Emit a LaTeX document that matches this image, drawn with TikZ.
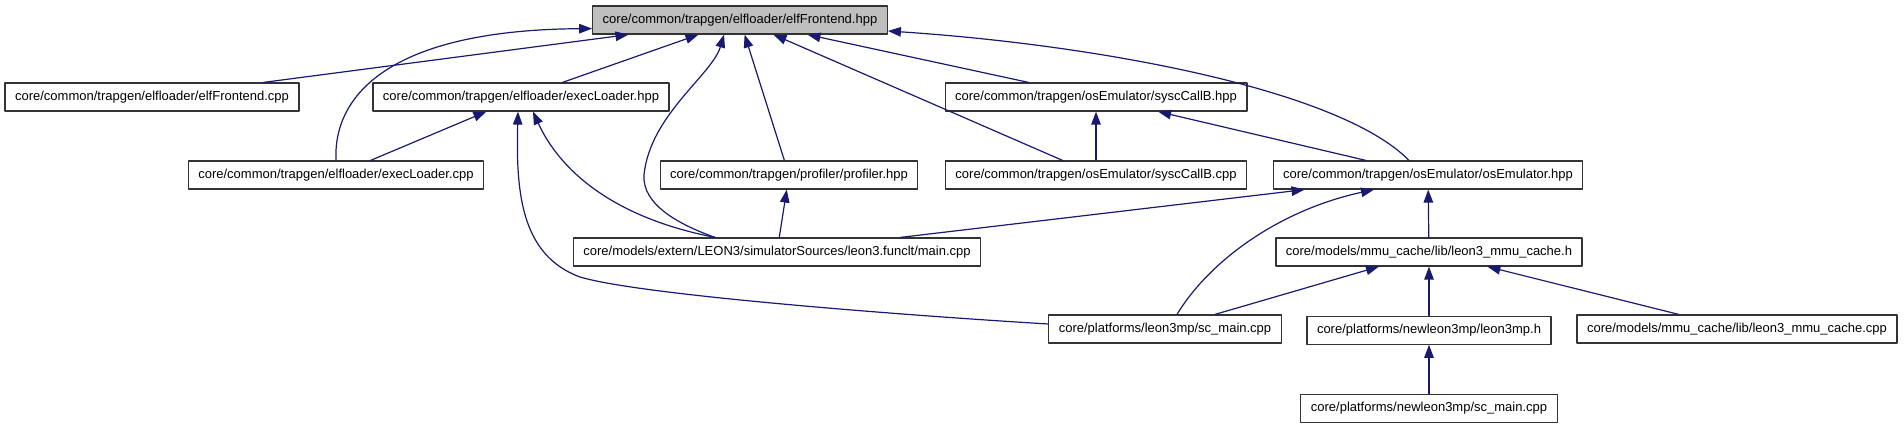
\documentclass[tikz,border=0pt]{standalone}
\usepackage{fontspec}
\setmainfont{Liberation Sans}
\usepackage{xcolor}
\usepackage{tikz}
\usetikzlibrary{arrows.meta,positioning}
\definecolor{edgeblue}{HTML}{191970}
\definecolor{boxline}{HTML}{333333}
\definecolor{focusgray}{HTML}{BFBFBF}
\tikzset{
    every picture/.style={line cap=round,line join=round},
    filebox/.style={draw=boxline,fill=white,line width=1.2pt,
      minimum height=28pt,inner xsep=10pt,inner ysep=0pt,
      font={\fontsize{13pt}{15pt}\selectfont}},
    focus/.style={fill=focusgray},
    incl/.style={-{Triangle[length=13pt,width=9.5pt]},draw=edgeblue,
      line width=1.2pt}
}
\begin{document}
\begin{tikzpicture}[x=1pt,y=-1pt]
  \useasboundingbox (0,0) rectangle (1904,427);
  % files
  \node[filebox,focus] (efhpp) at (740,20) {core/common/trapgen/elfloader/elfFrontend.hpp};
  \node[filebox] (efcpp) at (152,97) {core/common/trapgen/elfloader/elfFrontend.cpp};
  \node[filebox] (elhpp) at (521,97) {core/common/trapgen/elfloader/execLoader.hpp};
  \node[filebox] (schpp) at (1096,97) {core/common/trapgen/osEmulator/syscCallB.hpp};
  \node[filebox] (elcpp) at (336,175) {core/common/trapgen/elfloader/execLoader.cpp};
  \node[filebox] (prof) at (789,175) {core/common/trapgen/profiler/profiler.hpp};
  \node[filebox] (sccpp) at (1096,175) {core/common/trapgen/osEmulator/syscCallB.cpp};
  \node[filebox] (osemu) at (1428,175) {core/common/trapgen/osEmulator/osEmulator.hpp};
  \node[filebox] (lmain) at (777,252) {core/models/extern/LEON3/simulatorSources/leon3.funclt/main.cpp};
  \node[filebox] (mmuh) at (1429,252) {core/models/mmu\_cache/lib/leon3\_mmu\_cache.h};
  \node[filebox] (lsc) at (1165,329) {core/platforms/leon3mp/sc\_main.cpp};
  \node[filebox,below=49pt of mmuh] (lmph) {core/platforms/newleon3mp/leon3mp.h};
  \node[filebox] (mmucpp) at (1737,329) {core/models/mmu\_cache/lib/leon3\_mmu\_cache.cpp};
  \node[filebox,below=49pt of lmph] (nlsc) {core/platforms/newleon3mp/sc\_main.cpp};
  % straight includes
  \foreach \a/\b in {efcpp/efhpp,elhpp/efhpp,prof/efhpp,sccpp/efhpp,schpp/efhpp,
      elcpp/elhpp,sccpp/schpp,osemu/schpp,lmain/prof,lmain/osemu,
      mmuh/osemu,lsc/mmuh,lmph/mmuh,mmucpp/mmuh,nlsc/lmph}
    \draw[incl] (\a) -- (\b);
  % curved includes
  \draw[incl] (elcpp.north) .. controls (333,95) and (390,30) .. ([yshift=6pt]efhpp.south west);
  \draw[incl] ([xshift=-62pt]lmain.north) .. controls (680,225) and (642,205) .. (644,175)
    .. controls (650,115) and (712,75) .. ([xshift=-16pt]efhpp.south);
  \draw[incl] ([xshift=-62pt]lmain.north) .. controls (600,215) and (555,160) .. ([xshift=12pt]elhpp.south);
  \draw[incl] ([yshift=5pt]lsc.west) .. controls (900,315) and (640,295) .. (580,277)
    .. controls (520,255) and (516,190) .. ([xshift=-3pt]elhpp.south);
  \draw[incl] ([xshift=-19pt]osemu.north) .. controls (1340,90) and (1100,45) .. ([yshift=-11pt]efhpp.east);
  \draw[incl] ([xshift=12pt]lsc.north) .. controls (1210,260) and (1280,210) .. ([xshift=-54pt]osemu.south);
\end{tikzpicture}
\end{document}
